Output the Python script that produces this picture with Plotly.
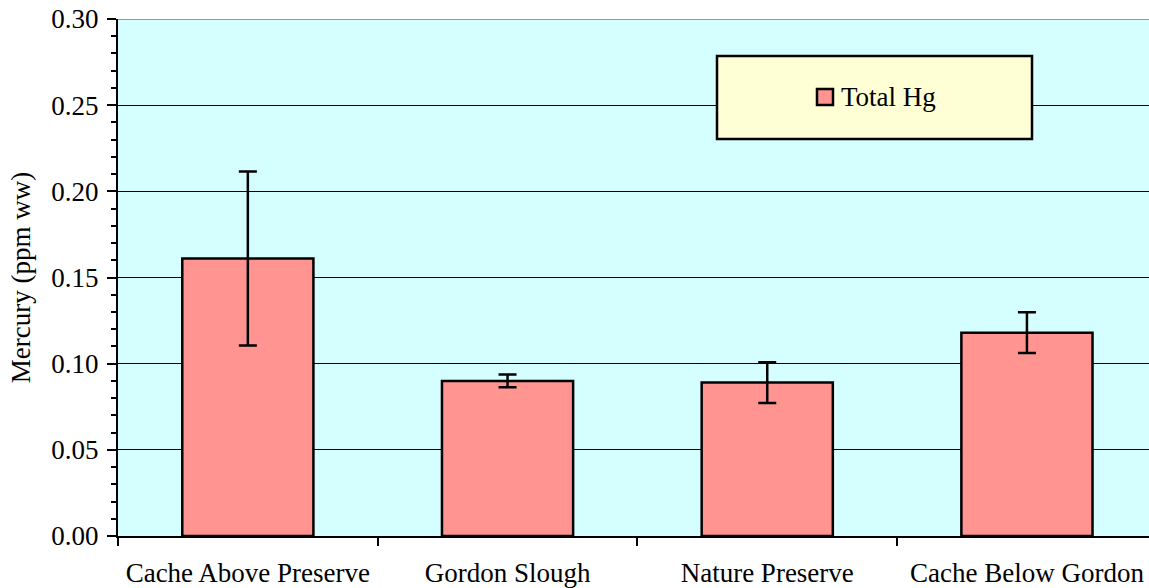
import plotly.graph_objects as go

categories = ["Cache Above Preserve", "Gordon Slough", "Nature Preserve", "Cache Below Gordon"]
total_hg = [0.161, 0.090, 0.089, 0.118]
total_hg_err = [0.0505, 0.0037, 0.0118, 0.0118]
y_ticks = [0.00, 0.05, 0.10, 0.15, 0.20, 0.25, 0.30]
series_name = "Total Hg"

font_family = "Liberation Serif, Times New Roman, serif"

W, H = 1149, 588
L, T, B = 118, 19, 52
PW, PH = W - L, H - T - B


def px_x(x):
    return (x - L) / PW


def px_y(y):
    return (H - B - y) / PH


fig = go.Figure()
fig.add_trace(go.Bar(
    x=categories, y=total_hg, name=series_name,
    marker=dict(color="#FF9490", line=dict(color="black", width=2.5)),
    width=0.505, showlegend=False,
    error_y=dict(type="data", array=total_hg_err, visible=True,
                 color="black", thickness=2.5, width=9),
))

fig.update_layout(
    width=W, height=H, autosize=False,
    margin=dict(l=L, r=0, t=T, b=B),
    paper_bgcolor="white",
    plot_bgcolor="#D4FEFF",
    font=dict(family=font_family, size=27, color="black"),
    showlegend=False,
    shapes=[
        dict(type="rect", xref="paper", yref="paper",
             x0=px_x(717), x1=px_x(1032), y0=px_y(139), y1=px_y(56),
             fillcolor="#FFFFD5", line=dict(color="black", width=2.5), layer="above"),
        dict(type="rect", xref="paper", yref="paper",
             x0=px_x(817), x1=px_x(833), y0=px_y(105), y1=px_y(89),
             fillcolor="#FF9490", line=dict(color="black", width=2.5), layer="above"),
        dict(type="line", xref="paper", yref="y", x0=0, x1=1, y0=0.30, y1=0.30,
             line=dict(color="#999999", width=2), layer="above"),
    ],
    annotations=[
        dict(text=series_name, xref="paper", yref="paper", x=px_x(839), y=px_y(97),
             xanchor="left", yanchor="middle", showarrow=False,
             font=dict(family=font_family, size=27)),
    ],
)

fig.update_xaxes(
    showline=True, linecolor="black", linewidth=2,
    ticks="outside", tickson="boundaries", ticklen=8, tickcolor="black", tickwidth=2,
    showgrid=False, tickfont=dict(size=27), range=[-0.5, 3.47], automargin=False,
    ticklabelstandoff=12,
)
fig.update_yaxes(
    range=[0, 0.30], tickvals=y_ticks, ticktext=[f"{v:.2f}" for v in y_ticks],
    showline=True, linecolor="black", linewidth=2,
    ticks="outside", ticklen=9, tickcolor="black", tickwidth=2,
    showgrid=True, gridcolor="black", gridwidth=1.2,
    minor=dict(ticks="outside", dtick=0.01, ticklen=5, tickcolor="black", tickwidth=1.5, showgrid=False),
    title=dict(text="Mercury (ppm ww)", font=dict(size=27), standoff=13),
    tickfont=dict(size=27), zeroline=False, automargin=False, ticklabelstandoff=3,
    ticklabeloverflow="allow",
)

fig.write_html(
    "out.html",
    config={"responsive": False, "displayModeBar": False},
    post_script="document.body.style.margin='0';document.body.style.overflow='hidden';",
)
